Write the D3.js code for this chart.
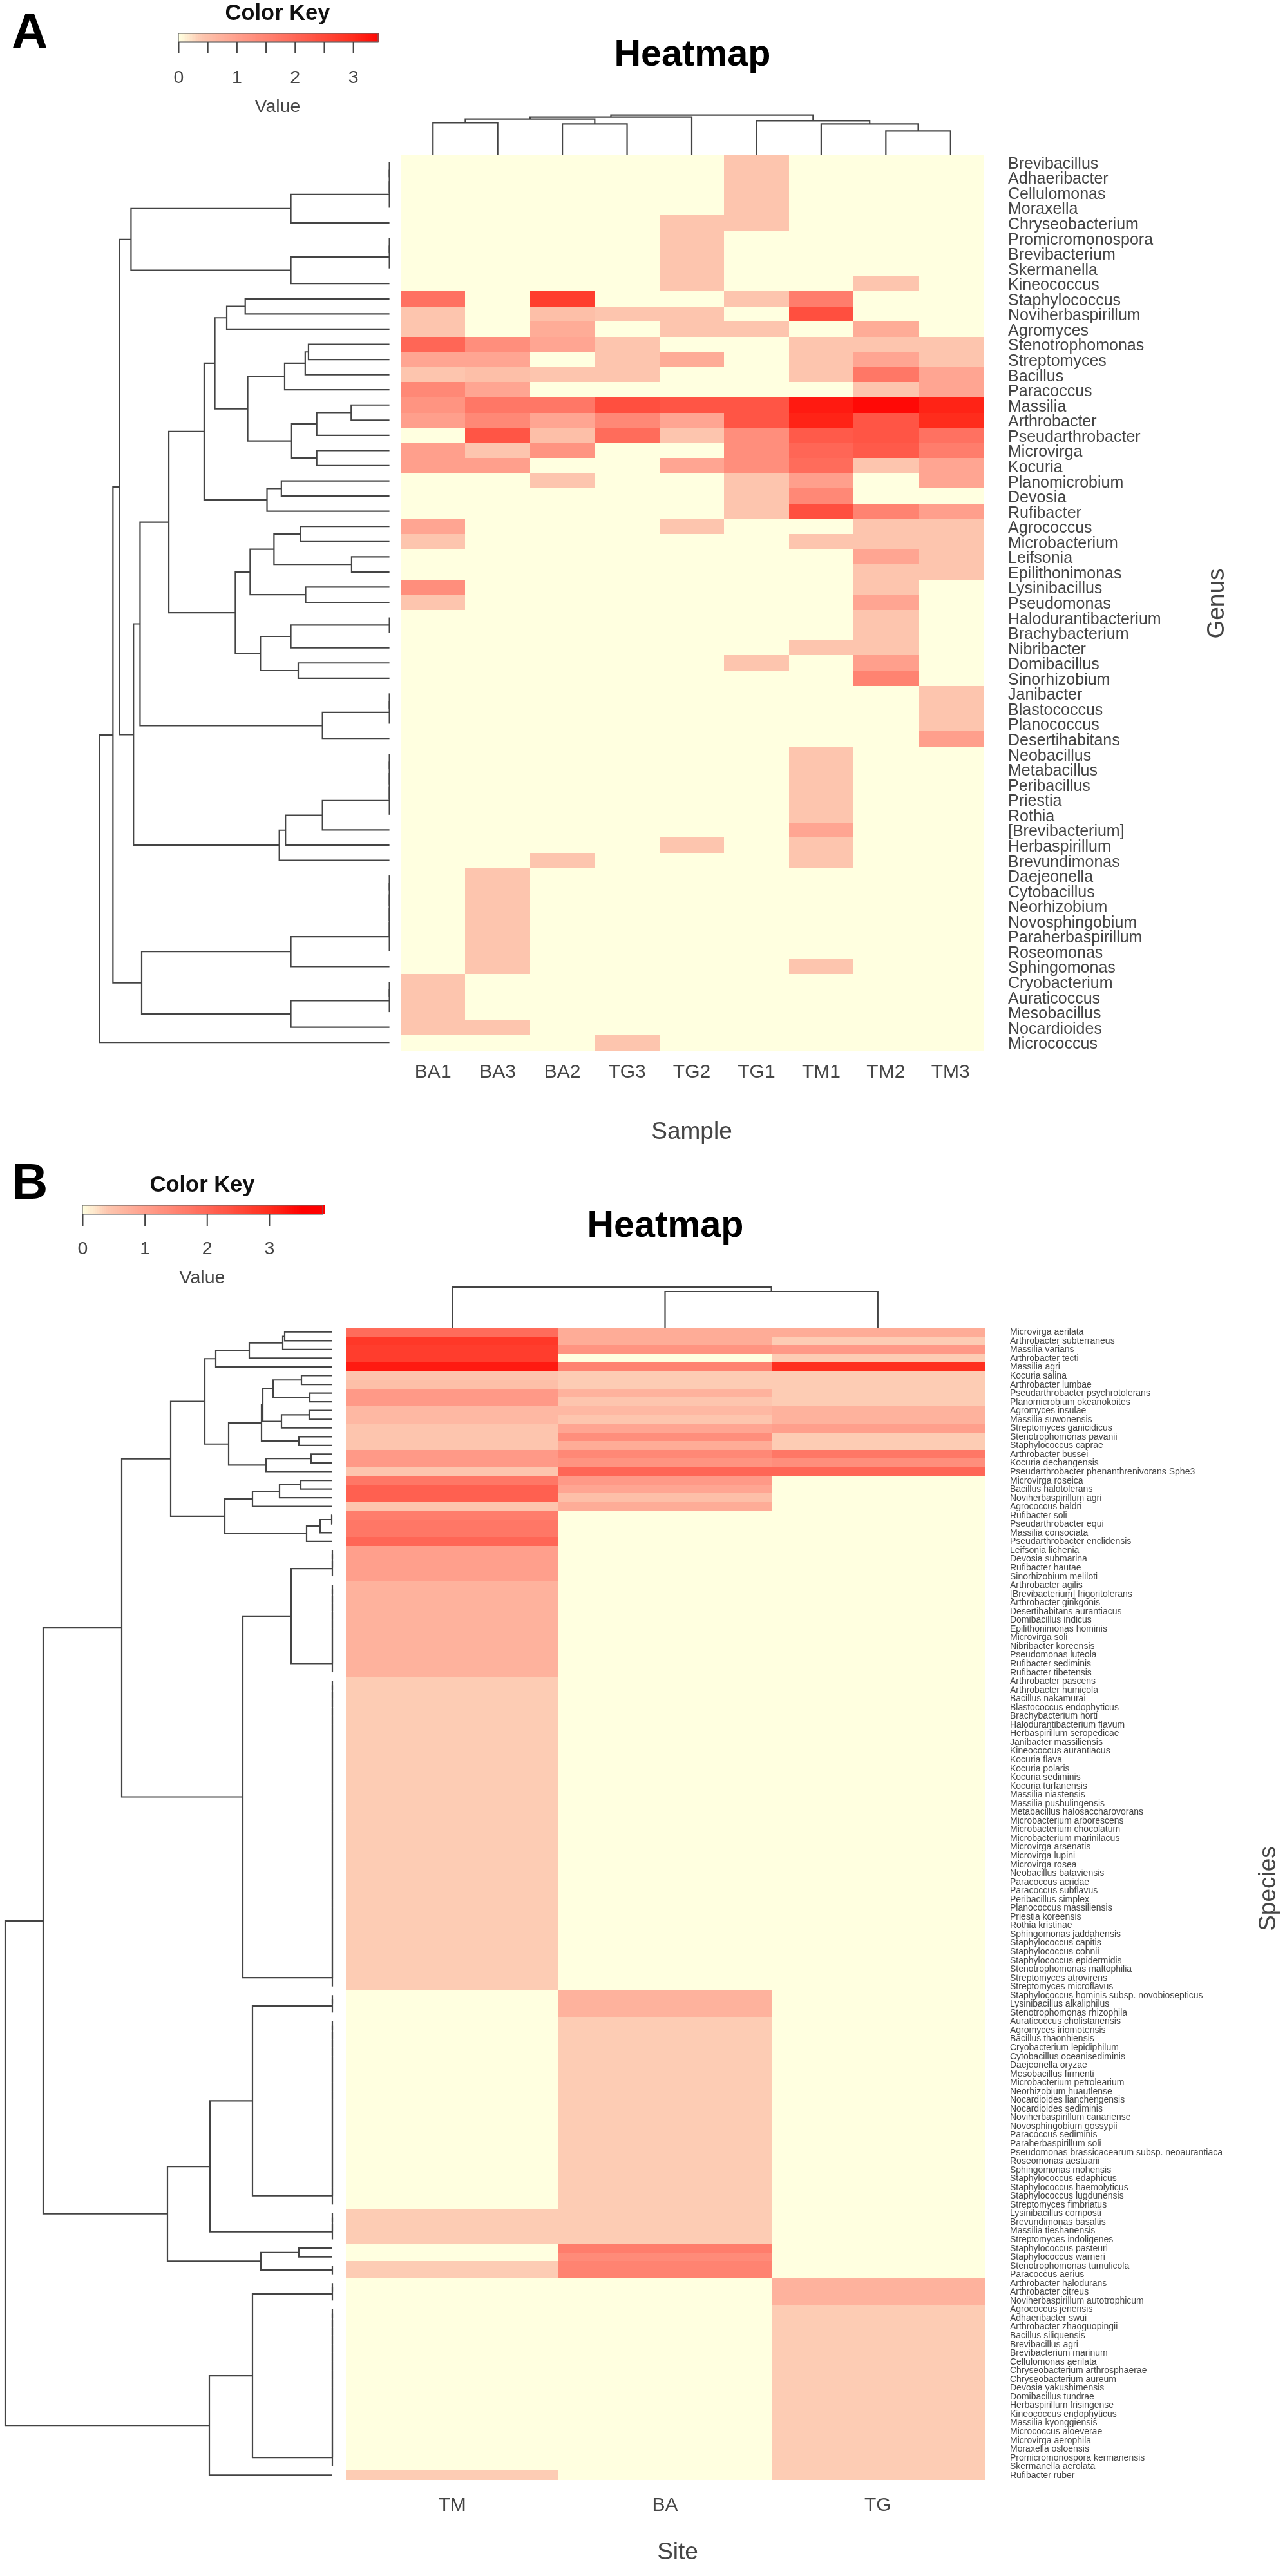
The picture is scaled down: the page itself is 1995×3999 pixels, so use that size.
<!DOCTYPE html>
<html><head><meta charset="utf-8">
<script src="https://cdn.jsdelivr.net/npm/d3@7"></script>
<style>
html,body{margin:0;padding:0;background:#fff}
svg{display:block;filter:blur(.7px)}
text{font-family:"Liberation Sans",Arial,sans-serif}
</style></head><body><svg id="c" width="1995" height="3999"></svg>
<script>
// ---------- DATA ----------
const samplesA=["BA1","BA3","BA2","TG3","TG2","TG1","TM1","TM2","TM3"];
const genera=["Brevibacillus","Adhaeribacter","Cellulomonas","Moraxella","Chryseobacterium","Promicromonospora","Brevibacterium","Skermanella","Kineococcus","Staphylococcus","Noviherbaspirillum","Agromyces","Stenotrophomonas","Streptomyces","Bacillus","Paracoccus","Massilia","Arthrobacter","Pseudarthrobacter","Microvirga","Kocuria","Planomicrobium","Devosia","Rufibacter","Agrococcus","Microbacterium","Leifsonia","Epilithonimonas","Lysinibacillus","Pseudomonas","Halodurantibacterium","Brachybacterium","Nibribacter","Domibacillus","Sinorhizobium","Janibacter","Blastococcus","Planococcus","Desertihabitans","Neobacillus","Metabacillus","Peribacillus","Priestia","Rothia","[Brevibacterium]","Herbaspirillum","Brevundimonas","Daejeonella","Cytobacillus","Neorhizobium","Novosphingobium","Paraherbaspirillum","Roseomonas","Sphingomonas","Cryobacterium","Auraticoccus","Mesobacillus","Nocardioides","Micrococcus"];
const valuesA=[
[0,0,0,0,0,.4,0,0,0],[0,0,0,0,0,.4,0,0,0],[0,0,0,0,0,.4,0,0,0],[0,0,0,0,0,.4,0,0,0],
[0,0,0,0,.4,.4,0,0,0],[0,0,0,0,.4,0,0,0,0],[0,0,0,0,.4,0,0,0,0],[0,0,0,0,.4,0,0,0,0],
[0,0,0,0,.4,0,0,.4,0],
[1.8,0,2.7,0,0,.4,1.6,0,0],
[.4,0,.5,.4,.4,0,2.4,0,0],
[.4,0,.8,0,.4,.4,0,.8,0],
[2.0,1.3,.9,.4,0,0,.4,.4,.4],
[.9,.9,0,.4,.8,0,.4,.9,.4],
[.4,.5,.4,.4,0,0,.4,1.7,.9],
[1.4,.9,0,0,0,0,0,.4,.9],
[1.2,1.7,1.7,2.4,2.3,2.3,3.2,3.4,3.1],
[1.0,1.4,.9,1.4,.9,2.3,3.1,2.3,3.0],
[0,2.3,.5,1.9,.4,1.3,2.2,2.3,1.8],
[1.0,.4,1.2,0,0,1.3,2.0,2.2,1.6],
[1.0,1.0,0,0,.9,1.3,1.9,.4,.9],
[0,0,.4,0,0,.4,1.0,0,.9],
[0,0,0,0,0,.4,1.4,0,0],
[0,0,0,0,0,.4,2.4,1.5,1.0],
[.9,0,0,0,.4,0,0,.4,.4],
[.4,0,0,0,0,0,.4,.4,.4],
[0,0,0,0,0,0,0,.9,.4],
[0,0,0,0,0,0,0,.4,.4],
[1.3,0,0,0,0,0,0,.4,0],
[.4,0,0,0,0,0,0,.9,0],
[0,0,0,0,0,0,0,.4,0],[0,0,0,0,0,0,0,.4,0],
[0,0,0,0,0,0,.4,.4,0],
[0,0,0,0,0,.4,0,1.0,0],
[0,0,0,0,0,0,0,1.5,0],
[0,0,0,0,0,0,0,0,.4],[0,0,0,0,0,0,0,0,.4],[0,0,0,0,0,0,0,0,.4],
[0,0,0,0,0,0,0,0,1.0],
[0,0,0,0,0,0,.4,0,0],[0,0,0,0,0,0,.4,0,0],[0,0,0,0,0,0,.4,0,0],[0,0,0,0,0,0,.4,0,0],[0,0,0,0,0,0,.4,0,0],
[0,0,0,0,0,0,.9,0,0],
[0,0,0,0,.4,0,.4,0,0],
[0,0,.4,0,0,0,.4,0,0],
[0,.4,0,0,0,0,0,0,0],[0,.4,0,0,0,0,0,0,0],[0,.4,0,0,0,0,0,0,0],[0,.4,0,0,0,0,0,0,0],[0,.4,0,0,0,0,0,0,0],[0,.4,0,0,0,0,0,0,0],
[0,.4,0,0,0,0,.4,0,0],
[.4,0,0,0,0,0,0,0,0],[.4,0,0,0,0,0,0,0,0],[.4,0,0,0,0,0,0,0,0],
[.4,.4,0,0,0,0,0,0,0],
[0,0,0,.4,0,0,0,0,0]];
const sites=["TM","BA","TG"];
const species=["Microvirga aerilata","Arthrobacter subterraneus","Massilia varians","Arthrobacter tecti","Massilia agri","Kocuria salina","Arthrobacter lumbae","Pseudarthrobacter psychrotolerans","Planomicrobium okeanokoites","Agromyces insulae","Massilia suwonensis","Streptomyces ganicidicus","Stenotrophomonas pavanii","Staphylococcus caprae","Arthrobacter bussei","Kocuria dechangensis","Pseudarthrobacter phenanthrenivorans Sphe3","Microvirga roseica","Bacillus halotolerans","Noviherbaspirillum agri","Agrococcus baldri","Rufibacter soli","Pseudarthrobacter equi","Massilia consociata","Pseudarthrobacter enclidensis","Leifsonia lichenia","Devosia submarina","Rufibacter hautae","Sinorhizobium meliloti","Arthrobacter agilis","[Brevibacterium] frigoritolerans","Arthrobacter ginkgonis","Desertihabitans aurantiacus","Domibacillus indicus","Epilithonimonas hominis","Microvirga soli","Nibribacter koreensis","Pseudomonas luteola","Rufibacter sediminis","Rufibacter tibetensis","Arthrobacter pascens","Arthrobacter humicola","Bacillus nakamurai","Blastococcus endophyticus","Brachybacterium horti","Halodurantibacterium flavum","Herbaspirillum seropedicae","Janibacter massiliensis","Kineococcus aurantiacus","Kocuria flava","Kocuria polaris","Kocuria sediminis","Kocuria turfanensis","Massilia niastensis","Massilia pushulingensis","Metabacillus halosaccharovorans","Microbacterium arborescens","Microbacterium chocolatum","Microbacterium marinilacus","Microvirga arsenatis","Microvirga lupini","Microvirga rosea","Neobacillus bataviensis","Paracoccus acridae","Paracoccus subflavus","Peribacillus simplex","Planococcus massiliensis","Priestia koreensis","Rothia kristinae","Sphingomonas jaddahensis","Staphylococcus capitis","Staphylococcus cohnii","Staphylococcus epidermidis","Stenotrophomonas maltophilia","Streptomyces atrovirens","Streptomyces microflavus","Staphylococcus hominis subsp. novobiosepticus","Lysinibacillus alkaliphilus","Stenotrophomonas rhizophila","Auraticoccus cholistanensis","Agromyces iriomotensis","Bacillus thaonhiensis","Cryobacterium lepidiphilum","Cytobacillus oceanisediminis","Daejeonella oryzae","Mesobacillus firmenti","Microbacterium petrolearium","Neorhizobium huautlense","Nocardioides lianchengensis","Nocardioides sediminis","Noviherbaspirillum canariense","Novosphingobium gossypii","Paracoccus sediminis","Paraherbaspirillum soli","Pseudomonas brassicacearum subsp. neoaurantiaca","Roseomonas aestuarii","Sphingomonas mohensis","Staphylococcus edaphicus","Staphylococcus haemolyticus","Staphylococcus lugdunensis","Streptomyces fimbriatus","Lysinibacillus composti","Brevundimonas basaltis","Massilia tieshanensis","Streptomyces indoligenes","Staphylococcus pasteuri","Staphylococcus warneri","Stenotrophomonas tumulicola","Paracoccus aerius","Arthrobacter halodurans","Arthrobacter citreus","Noviherbaspirillum autotrophicum","Agrococcus jenensis","Adhaeribacter swui","Arthrobacter zhaoguopingii","Bacillus siliquensis","Brevibacillus agri","Brevibacterium marinum","Cellulomonas aerilata","Chryseobacterium arthrosphaerae","Chryseobacterium aureum","Devosia yakushimensis","Domibacillus tundrae","Herbaspirillum frisingense","Kineococcus endophyticus","Massilia kyonggiensis","Micrococcus aloeverae","Microvirga aerophila","Moraxella osloensis","Promicromonospora kermanensis","Skermanella aerolata","Rufibacter ruber"];
// runs of identical rows: [count, TM, BA, TG]
const runsB=[[1,1.9,.8,.8],[1,2.8,.8,.35],[1,2.7,1.2,1.1],[1,2.7,0,.35],[1,3.2,1.5,2.95],[1,.4,.35,.35],[1,.5,.35,.35],[1,1.1,.7,.35],[1,1.1,.4,.35],[1,.6,.6,.7],[1,.6,.4,.7],[1,.4,.9,1.0],[1,.4,1.3,.35],[1,.4,.8,.35],[1,1.1,1.4,1.7],[1,1.1,1.2,1.3],[1,.4,2.0,2.0],[1,1.7,1.1,0],[1,2.1,.9,0],[1,2.1,.5,0],[1,.4,.8,0],[1,1.6,0,0],[2,1.7,0,0],[1,2.0,0,0],[4,1.0,0,0],[11,.7,0,0],[36,.35,0,0],[3,0,.7,0],[22,0,.35,0],[4,.35,.35,0],[1,0,1.6,0],[1,0,1.35,0],[2,.35,1.5,0],[3,0,0,.7],[19,0,0,.35],[1,.35,0,.35]];
const valuesB=runsB.flatMap(([n,a,b,c])=>Array.from({length:n},()=>[a,b,c]));
const colorStops=[0,.4,1,2,3,3.5];
const colorRange=["#FFFFE0","#FDC5AE","#FF9F8C","#FF6656","#FF2C1C","#FF0000"];
const keyTicksA=[0,.5,1,1.5,2,2.5,3], keyTicksB=[0,1,2,3];
// dendrograms: [merge height, childA, childB]; a number is a leaf (row / column index)
const chain=(a,b)=>{let n=a;for(let i=a+1;i<=b;i++)n=[0,n,i];return n;};
const treeRowsA=[706,[673,[657,
 [629,[240,chain(0,3),4],[240,chain(5,7),8]],
 [623,[607,[537,[451,
   [425,[396,[351,9,10],11],[345,[255,[205,[197,12,13],14],15],[238,[177,[93,16,17],18],[177,19,20]]]],
   [298,[263,21,22],23]],
  [375,[339,[281,[217,24,25],[92,26,27]],[204,28,29]],[314,[240,chain(30,31),32],[222,33,34]]]],
  [163,chain(35,37),38]],
  [268,[253,[163,chain(39,43),44],45],46]]],
 [603,[240,chain(47,52),53],[240,chain(54,56),57]]],58];
const treeColsA=[62,[59,[56,[50,0,1],[48,2,3]],4],[53,5,[48,6,[37,7,8]]]];
const treeRowsB=[508,[449,[327,[251,
  [198,[181,[129,[77,[74,0,1],2],3],4],[161,[110,[108,[92,[48,5,6],[35,7,8]],[79,[36,9,10],11]],[52,12,13]],[103,[33,14,15],16]]],
  [167,[124,[82,[49,17,18],19],20],[40,[19,[1,21,22],23],24]]],
  [139,[64,chain(25,28),chain(29,39)],chain(40,75)]],
 [256,[190,[124,chain(76,78),chain(79,100)],chain(101,104)],[111,[52,105,106],chain(107,108)]]],
 [191,[124,chain(109,111),chain(112,130)],131]];
const treeColsB=[63,0,[56,1,2]];

// ---------- DRAW ----------
const svg=d3.select("#c");
const ink="#444444";
const color=d3.scaleLinear().domain(colorStops).range(colorRange).clamp(true);

function dendro(g,tree,leafPos,hScale,horizontal){
  const segs=[];
  (function walk(n){
    if(typeof n==="number")return {p:leafPos(n),h:0};
    const a=walk(n[1]),b=walk(n[2]);
    segs.push({a,b,h:n[0]});
    return {p:(a.p+b.p)/2,h:n[0]};
  })(tree);
  g.selectAll("path").data(segs).join("path")
    .attr("fill","none").attr("stroke",ink).attr("stroke-width",2.2)
    .attr("d",d=>{
      const v=hScale(d.h),a=hScale(d.a.h),b=hScale(d.b.h);
      return horizontal
       ?`M${a},${d.a.p}H${v}V${d.b.p}H${b}`
       :`M${d.a.p},${a}V${v}H${d.b.p}V${b}`;
    });
}

function panel(o){
  const g=svg.append("g");
  const x=d3.scaleBand().domain(o.cols).range([o.left,o.right]);
  const y=d3.scaleBand().domain(o.rows).range([o.top,o.bottom]);
  // heat cells
  const cells=o.values.flatMap((r,i)=>r.map((v,j)=>({r:o.rows[i],c:o.cols[j],v})));
  g.append("g").attr("shape-rendering","crispEdges").selectAll("rect").data(cells).join("rect")
    .attr("x",d=>x(d.c)).attr("y",d=>y(d.r)).attr("width",x.bandwidth()+.5).attr("height",y.bandwidth()+.5)
    .attr("fill",d=>color(d.v));
  // row labels
  const ax=g.append("g").attr("transform",`translate(${o.labelX},${o.rowShift})`)
    .call(d3.axisRight(y).tickSize(0).tickPadding(0));
  ax.select(".domain").remove();
  ax.selectAll("text").attr("font-size",o.rowFont).attr("fill","#454545").attr("font-family",'"Liberation Sans",Arial,sans-serif');
  // column labels
  const bx=g.append("g").attr("transform",`translate(0,${o.colLabelY})`)
    .call(d3.axisBottom(x).tickSize(0).tickPadding(0));
  bx.select(".domain").remove();
  bx.selectAll("text").attr("font-size",30).attr("fill","#454545").attr("font-family",'"Liberation Sans",Arial,sans-serif').attr("dy",0);
  // dendrograms
  dendro(g.append("g"),o.treeRows,i=>y(o.rows[i])+y.bandwidth()/2,
    d3.scaleLinear().domain([0,o.treeRowsMax]).range([o.leafX,o.rootX]),true);
  dendro(g.append("g"),o.treeCols,j=>x(o.cols[j])+x.bandwidth()/2,
    d3.scaleLinear().domain([0,o.treeColsMax]).range([o.top,o.colRootY]),false);
  // titles
  const t=(s,px,py,fs,w,f,rot)=>g.append("text").text(s).attr("text-anchor","middle").attr("font-size",fs)
     .attr("font-weight",w).attr("fill",f)
     .attr("transform",`translate(${px},${py})`+(rot?" rotate(-90)":""));
  t("Heatmap",o.titleX,o.titleY,57.5,"bold","#000");
  t(o.xLabel[0],o.xLabel[1],o.xLabel[2],37,"normal","#454545");
  t(o.yLabel[0],o.yLabel[1],o.yLabel[2],37,"normal","#454545",true);
  g.append("text").text(o.letter[0]).attr("x",o.letter[1]).attr("y",o.letter[2]).attr("font-size",78).attr("font-weight","bold").attr("fill","#000");
  // colour key
  const k=d3.scaleLinear().domain([0,o.keyMax]).range([o.keyLeft,o.keyRight]);
  const kn=d3.range(0,o.keyMax,o.keyMax/120);
  g.append("g").attr("shape-rendering","crispEdges").selectAll("rect").data(kn).join("rect")
    .attr("x",d=>k(d)).attr("y",o.keyTop).attr("width",(o.keyRight-o.keyLeft)/120+.5).attr("height",o.keyH).attr("fill",d=>color(d));
  g.append("rect").attr("x",o.keyLeft).attr("y",o.keyTop).attr("width",o.keyRight-o.keyLeft).attr("height",o.keyH).attr("fill","none").attr("stroke","#666").attr("stroke-width",1.2);
  const ka=g.append("g").attr("transform",`translate(0,${o.keyTop+o.keyH})`)
    .call(d3.axisBottom(k).tickValues(o.keyTicks).tickSize(18).tickPadding(o.keyPad).tickFormat(d=>Number.isInteger(d)?d:""));
  ka.select(".domain").remove();
  ka.selectAll("line").attr("stroke",ink).attr("stroke-width",2);
  ka.selectAll("text").attr("font-size",28.5).attr("fill","#454545").attr("font-family",'"Liberation Sans",Arial,sans-serif');
  t("Color Key",o.keyCx,o.keyTitleY,34.5,"bold","#111");
  t("Value",o.keyCx,o.keyValueY,28.5,"normal","#454545");
}

panel({rows:genera,cols:samplesA,values:valuesA,left:622,right:1526,top:240,bottom:1630,
  labelX:1565,rowFont:25,rowShift:2,colLabelY:1673,
  treeRows:treeRowsA,treeRowsMax:706,leafX:604.6,rootX:154.3,
  treeCols:treeColsA,treeColsMax:62,colRootY:178.6,
  titleX:1075,titleY:102,xLabel:["Sample",1074,1768],yLabel:["Genus",1900,937],letter:["A",18,75],
  keyMax:3.43,keyLeft:277,keyRight:587,keyTop:52,keyH:13,keyPad:26,keyTicks:keyTicksA,keyCx:431,keyTitleY:31,keyValueY:174});

panel({rows:species,cols:sites,values:valuesB,left:537,right:1528,top:2061,bottom:3849,
  labelX:1568,rowFont:14,rowShift:0,colLabelY:3898,
  treeRows:treeRowsB,treeRowsMax:508,leafX:516,rootX:8,
  treeCols:treeColsB,treeColsMax:63,colRootY:1998,
  titleX:1033,titleY:1920,xLabel:["Site",1052,3973],yLabel:["Species",1980,2932],letter:["B",18,1861],
  keyMax:3.86,keyLeft:128,keyRight:501,keyTop:1871,keyH:14,keyPad:24,keyTicks:keyTicksB,keyCx:314,keyTitleY:1850,keyValueY:1992});
</script></body></html>
